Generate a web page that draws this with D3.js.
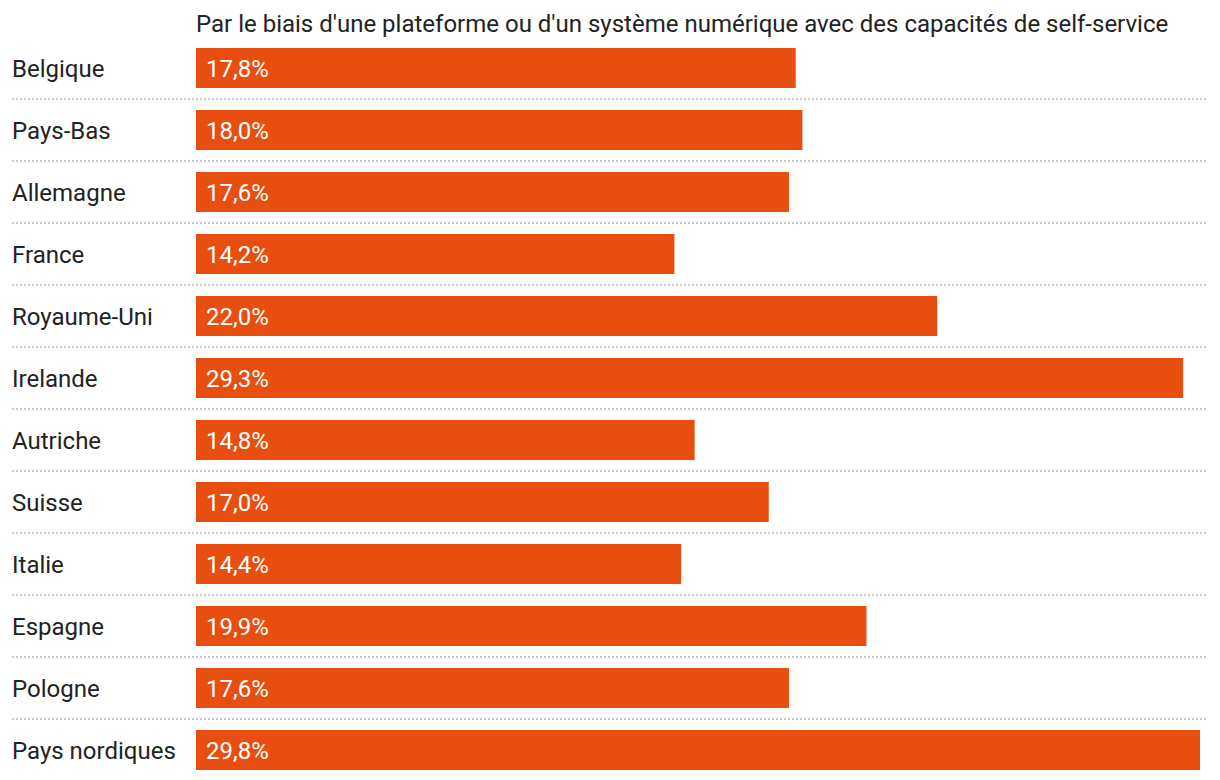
<!DOCTYPE html>
<html><head><meta charset="utf-8">
<script src="https://cdn.jsdelivr.net/npm/d3@7"></script>
<style>body{margin:0;background:#fff;}svg{display:block;font-family:Roboto,sans-serif;}</style>
</head><body>
<svg id="c" width="1220" height="780"></svg>
<script>
const title = "Par le biais d'une plateforme ou d'un système numérique avec des capacités de self-service";
const categories = ["Belgique","Pays-Bas","Allemagne","France","Royaume-Uni","Irelande","Autriche","Suisse","Italie","Espagne","Pologne","Pays nordiques"];
const values = [17.8,18.0,17.6,14.2,22.0,29.3,14.8,17.0,14.4,19.9,17.6,29.8];
const fmt = v => d3.format(".1f")(v).replace(".", ",") + "%";

const svg = d3.select("#c");
const x = d3.scaleLinear().domain([0, 29.8]).range([196, 1200]);
const y = d3.scaleBand().domain(categories).range([37, 781]).paddingInner(22/62).paddingOuter(11/62);

svg.append("text").attr("x", 196).attr("y", 32).attr("fill", "#222").attr("font-size", 24).text(title);

const g = svg.selectAll("g.row").data(categories).enter().append("g");
g.append("line")
  .attr("x1", 12).attr("x2", 1208)
  .attr("y1", d => y(d) + y.bandwidth() + 11).attr("y2", d => y(d) + y.bandwidth() + 11)
  .attr("stroke", "#ccc").attr("stroke-width", 2).attr("stroke-dasharray", "2,2")
  .attr("display", (d,i) => i === categories.length - 1 ? "none" : null);
g.append("rect")
  .attr("x", x(0)).attr("y", d => y(d))
  .attr("width", (d,i) => x(values[i]) - x(0)).attr("height", y.bandwidth())
  .attr("fill", "#e84e0f");
g.append("text").attr("x", 12).attr("y", d => y(d) + y.bandwidth()/2 + 8.5)
  .attr("fill", "#222").attr("font-size", 24).text(d => d);
g.append("text").attr("x", 206).attr("y", d => y(d) + y.bandwidth()/2 + 8.5)
  .attr("fill", "#fff").attr("font-size", 24).text((d,i) => fmt(values[i]));
</script>
</body></html>
